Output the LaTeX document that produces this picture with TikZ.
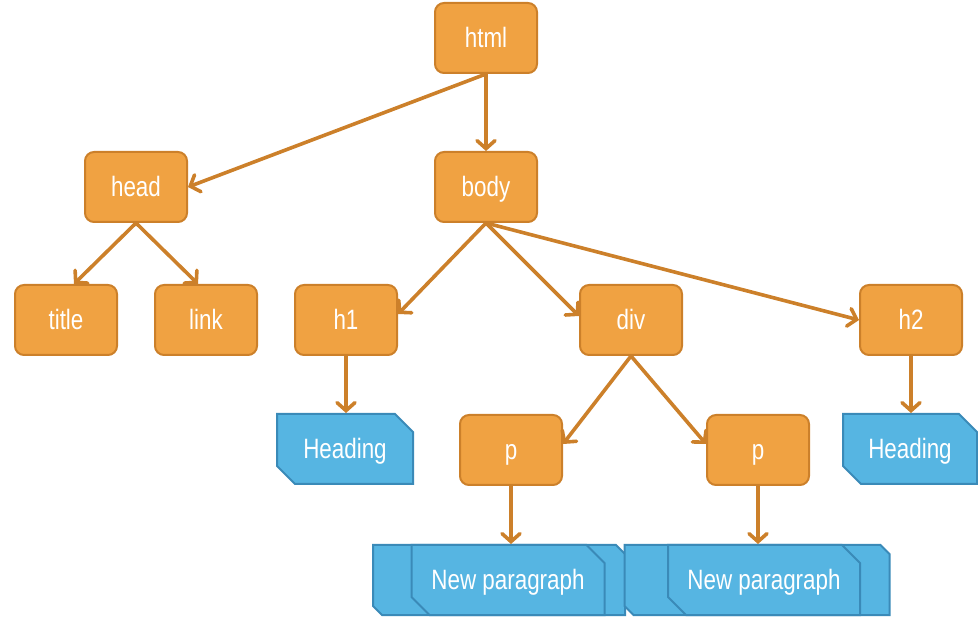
\documentclass[tikz,border=0pt]{standalone}
\usepackage{fontspec}
\setmainfont{Liberation Sans}[FakeStretch=0.8]
\usetikzlibrary{calc}
\usetikzlibrary{shapes.misc}
\usetikzlibrary{arrows.meta}
\definecolor{tag-orange}{RGB}{240, 162, 66}
\definecolor{tag-border}{RGB}{204, 128, 42}
\definecolor{text-blue}{RGB}{86, 181, 226}
\definecolor{text-border}{RGB}{58, 138, 184}

\begin{document}
\begin{tikzpicture}[x=1pt, y=-1pt,
    tag/.style={draw=tag-border, fill=tag-orange, line width=2pt, rounded corners=9pt,
        minimum width=102pt, minimum height=70pt, text=white, text height=20pt, text depth=0pt,
        font=\fontsize{28}{30}\selectfont},
    textbox/.style={chamfered rectangle, chamfered rectangle corners={north east, south west},
        chamfered rectangle xsep=9pt, chamfered rectangle ysep=9pt, inner sep=0pt,
        draw=text-border, fill=text-blue, line width=2pt, minimum height=70pt,
        text=white, text height=20pt, text depth=0pt, font=\fontsize{28}{30}\selectfont},
    link/.style={draw=tag-border, line width=3.6pt, line cap=round,
        -{Straight Barb[length=8pt, width=18pt, line cap=round, line width=3.6pt]}}]
\useasboundingbox (0,0) rectangle (978,617);
% element nodes
\node[tag] (html) at (486,38) {html};
\node[tag] (head) at (136,187) {head};
\node[tag] (body) at (486,187) {body};
\node[tag] (title) at (66,320) {title};
\node[tag] (linktag) at (206,320) {link};
\node[tag] (h1) at (346,320) {h1};
\node[tag] (div) at (631,320) {div};
\node[tag] (h2) at (911,320) {h2};
\node[tag] (pleft) at (511,450) {p};
\node[tag] (pright) at (758,450) {p};
% text nodes
\node[textbox, minimum width=136pt] (headingA) at (345,449) {Heading};
\node[textbox, minimum width=134pt] (headingB) at (910,449) {Heading};
\node[textbox, minimum width=252pt] (parA-back) at (499,580) {};
\node[textbox, minimum width=193pt] (parA) at (508,580) {New paragraph};
\node[textbox, minimum width=265pt] (parB-back) at (757,580) {};
\node[textbox, minimum width=192pt] (parB) at (764,580) {New paragraph};
% connectors
\draw[link] (html.south) -- (body.north);
\draw[link] (html.south) -- (head.east);
\draw[link] (head.south) -- ($(title.north)+(8,0)$);
\draw[link] (head.south) -- ($(linktag.north)+(-8,0)$);
\draw[link] (body.south) -- ($(h1.east)+(0,-6)$);
\draw[link] (body.south) -- ($(div.west)+(0,-4)$);
\draw[link] (body.south) -- (h2.west);
\draw[link] (h1.south) -- (h1.south |- headingA.north);
\draw[link] (h2.south) -- (h2.south |- headingB.north);
\draw[link] (div.south) -- ($(pleft.east)+(0,-6)$);
\draw[link] (div.south) -- ($(pright.west)+(0,-6)$);
\draw[link] (pleft.south) -- (pleft.south |- parA.north);
\draw[link] (pright.south) -- (pright.south |- parB.north);
\end{tikzpicture}
\end{document}
